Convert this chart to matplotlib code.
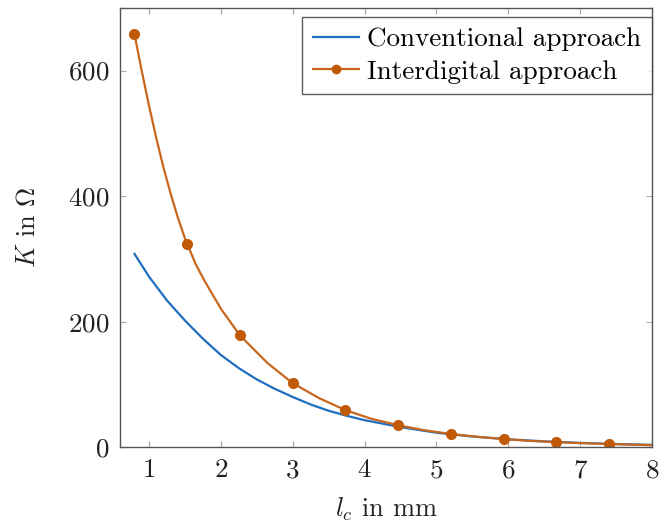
import numpy as np
import matplotlib
matplotlib.use("Agg")
import matplotlib.pyplot as plt

# values
conv_x = [0.8, 1.0, 1.25, 1.5, 1.75, 2.0, 2.25, 2.5, 2.75, 3.0, 3.25, 3.5, 3.75,
          4.0, 4.5, 5.0, 5.5, 6.0, 6.5, 7.0, 7.5, 8.0]
conv_k = [308, 272, 234, 202, 173, 147, 126, 108, 93, 80, 68, 58, 50,
          43, 32, 23, 17, 12.5, 9.2, 6.8, 5, 3.7]

inter_x = [0.8, 0.9, 1.0, 1.1, 1.2, 1.3, 1.4, 1.5, 1.533, 1.65, 1.774, 2.005, 2.267,
           2.65, 3.0, 3.37, 3.733, 4.1, 4.467, 4.83, 5.2, 5.57, 5.933, 6.3, 6.667,
           7.03, 7.4, 7.7, 8.0]
inter_k = [658, 600, 545, 494, 447, 405, 367, 333, 324, 292, 265, 220, 178,
           134, 102, 78, 59, 45, 35, 27, 21, 16.5, 13, 10, 8,
           6.3, 5, 4, 3.2]

mark_x = [0.8, 1.533, 2.267, 3.0, 3.733, 4.467, 5.2, 5.933, 6.667, 7.4]
mark_k = [658, 324, 178, 102, 59, 35, 21, 13, 8, 5]

plt.rcParams["font.family"] = "cmr10"
plt.rcParams["mathtext.fontset"] = "cm"
plt.rcParams["axes.formatter.use_mathtext"] = True

fig = plt.figure(figsize=(6.71, 5.23), dpi=100)
ax = fig.add_axes([0.179, 0.145, 0.793, 0.840])

blue = "#1f6fc0"
orange = "#c8661e"
mcol = "#c05a08"

ax.plot(conv_x, conv_k, color=blue, lw=1.6, label="Conventional approach")
ax.plot(inter_x, inter_k, color=orange, lw=1.6)
ax.plot(mark_x, mark_k, ls="none", marker="o", ms=7, color=mcol)
# legend entry with line and marker
ax.plot([], [], color=orange, lw=1.6, marker="o", ms=6, mfc=mcol, mec=mcol,
        label="Interdigital approach")

ax.set_xlim(0.6, 8)
ax.set_ylim(0, 700)
ax.set_xticks(range(1, 9))
ax.set_yticks([0, 200, 400, 600])

ax.tick_params(direction="in", top=True, right=True, length=4, color="#aaaaaa",
               labelsize=19.5, labelcolor="#222222", pad=8)
for s in ax.spines.values():
    s.set_color("#555555")
    s.set_linewidth(1.0)

ax.set_xlabel(r"$l_c$ in mm", fontsize=19, labelpad=10, color="#222222")
ax.set_ylabel(r"$K$ in $\Omega$", fontsize=19, labelpad=20, color="#222222")

leg = ax.legend(loc="upper right", bbox_to_anchor=(1.0, 0.98), borderaxespad=0,
                fontsize=19.5, frameon=True, fancybox=False, edgecolor="#333333",
                handlelength=1.7, borderpad=0.4, labelspacing=0.3,
                handletextpad=0.3)
leg.get_frame().set_linewidth(1.0)

fig.savefig("out.png", dpi=100)
